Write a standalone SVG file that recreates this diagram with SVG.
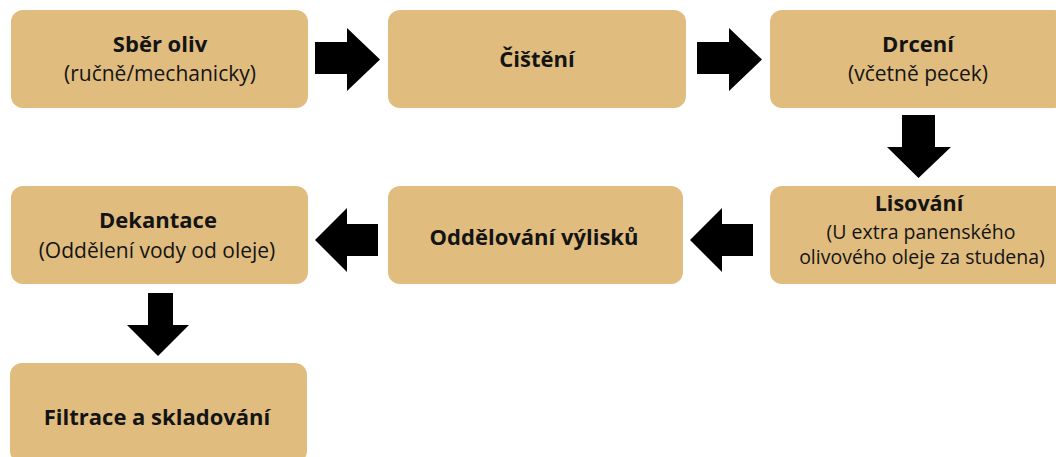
<svg xmlns="http://www.w3.org/2000/svg" width="1056" height="457" viewBox="0 0 1056 457">
<style>
.box{fill:#E0BC7F}
.t{font-family:"Open Sans","Liberation Sans",sans-serif;font-size:21px;fill:#141414;text-anchor:middle}
.b{font-weight:700;font-size:22px}
.s{font-size:19.5px}
.sb{font-weight:700;font-size:21.5px}
.arr{fill:#000}
</style>
<rect width="1056" height="457" fill="#fff"/>
<g id="n1"><rect class="box" x="11" y="10" width="297" height="98" rx="12"/>
<text class="t b" x="160" y="52">Sběr oliv</text>
<text class="t" x="160" y="81">(ručně/mechanicky)</text></g>
<g id="n2"><rect class="box" x="388" y="10" width="298" height="98" rx="12"/>
<text class="t b" x="537" y="67">Čištění</text></g>
<g id="n3"><rect class="box" x="770" y="10" width="296" height="98" rx="12"/>
<text class="t b" x="918" y="52">Drcení</text>
<text class="t" x="918" y="81">(včetně pecek)</text></g>
<g id="n4"><rect class="box" x="770" y="186" width="298" height="98" rx="12"/>
<text class="t sb" x="919" y="211">Lisování</text>
<text class="t s" x="921" y="239">(U extra panenského</text>
<text class="t s" x="922" y="264">olivového oleje za studena)</text></g>
<g id="n5"><rect class="box" x="388" y="186" width="295" height="98" rx="12"/>
<text class="t b" x="534" y="245">Oddělování výlisků</text></g>
<g id="n6"><rect class="box" x="11" y="186" width="297" height="98" rx="12"/>
<text class="t b" x="158" y="228">Dekantace</text>
<text class="t" x="157" y="258">(Oddělení vody od oleje)</text></g>
<g id="n7"><rect class="box" x="10" y="363" width="297" height="100" rx="12"/>
<text class="t b" x="157" y="425">Filtrace a skladování</text></g>
<g id="connectors">
<polygon class="arr" points="315,42 347,42 347,28 380,59.5 347,91 347,74 315,74"/>
<polygon class="arr" points="697,42 729,42 729,28 762,59.5 729,91 729,74 697,74"/>
<polygon class="arr" points="902,115 935,115 935,147 951,147 918.5,178 887,147 902,147"/>
<polygon class="arr" points="753,224 722,224 722,208 690,240 722,272 722,256 753,256"/>
<polygon class="arr" points="378,224 347,224 347,208 315,240 347,272 347,256 378,256"/>
<polygon class="arr" points="148,293 173,293 173,325 189,325 158,356 127,325 148,325"/>
</g>
</svg>
